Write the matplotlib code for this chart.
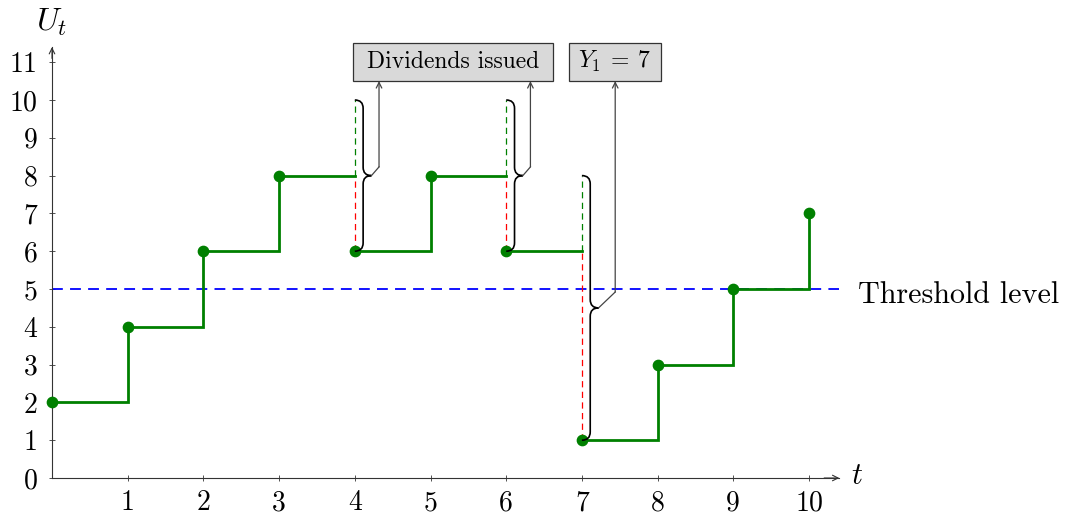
import numpy as np
import matplotlib
matplotlib.use("Agg")
import matplotlib.pyplot as plt
from matplotlib.path import Path
from matplotlib.patches import PathPatch, Rectangle

plt.rcParams["font.family"] = ["cmr10", "DejaVu Serif"]
plt.rcParams["mathtext.fontset"] = "cm"
plt.rcParams["axes.unicode_minus"] = False

# Surplus process: level right after each (premium / claim / dividend) event
times = np.arange(0, 11)
levels = [2, 4, 6, 8, 6, 8, 6, 1, 3, 5, 7]
premium = 2
threshold = 5
x_ticks = list(range(1, 11))
y_ticks = list(range(0, 12))
box_dividend = "Dividends issued"
box_claim = r"$Y_1\:=\:7$"

GREEN = "#008000"

fig = plt.figure(figsize=(10.66, 5.16), dpi=100)
xmax, ymax = 10.4, 11.4
ax = fig.add_axes([52 / 1066, 38 / 516, xmax * 75.7 / 1066, ymax * 37.8 / 516])
ax.set_xlim(0, xmax)
ax.set_ylim(0, ymax)

# axes styling
for s in ("top", "right"):
    ax.spines[s].set_visible(False)
for s in ("left", "bottom"):
    ax.spines[s].set_color("#333333")
    ax.spines[s].set_linewidth(0.8)
ax.set_xticks(x_ticks)
ax.set_yticks(y_ticks)
ax.tick_params(direction="inout", length=5, width=0.6, color="#333333",
               labelsize=20)
ax.tick_params(axis="x", pad=6)
ax.tick_params(axis="y", pad=8)
ax.annotate("", xy=(xmax, 0), xytext=(xmax - 0.2, 0),
            arrowprops=dict(arrowstyle="->", lw=0.8, color="#333333",
                            shrinkA=0, shrinkB=0), annotation_clip=False)
ax.annotate("", xy=(0, ymax), xytext=(0, ymax - 0.3),
            arrowprops=dict(arrowstyle="->", lw=0.8, color="#333333",
                            shrinkA=0, shrinkB=0), annotation_clip=False)
ax.text(xmax + 0.15, 0.05, r"$t$", fontsize=22, va="center", ha="left")
ax.text(0.0, ymax + 0.45, r"$U_t$", fontsize=23, va="baseline", ha="center")

# threshold
ax.plot([0, xmax], [threshold, threshold], color="blue", lw=1.3,
        dashes=(6, 4), zorder=2, clip_on=False)
ax.text(10.65, threshold - 0.17, "Threshold level", fontsize=21.7,
        va="center", ha="left")

# surplus path, split where a downward jump occurs
xs, ys = [times[0]], [levels[0]]
drops = []
for i in range(len(times) - 1):
    t1 = times[i + 1]
    xs.append(t1)
    ys.append(levels[i])
    if levels[i + 1] > levels[i]:
        xs.append(t1)
        ys.append(levels[i + 1])
    else:
        drops.append((t1, levels[i], levels[i + 1]))
        xs += [np.nan, t1]
        ys += [np.nan, levels[i + 1]]
ax.plot(xs, ys, color=GREEN, lw=2, zorder=4, solid_joinstyle="miter")
ax.scatter(times, levels, s=55, color=GREEN, zorder=5, clip_on=False)

# dashed premium (green) and drop (red) segments
for t, pre, post in drops:
    ax.plot([t, t], [pre, pre + premium], color=GREEN, lw=0.9,
            dashes=(5, 3.5), zorder=3)
    ax.plot([t, t], [post, pre], color="red", lw=0.9,
            dashes=(5, 3.5), zorder=3)


def brace(x0, y_lo, y_hi, amp=0.22, r=0.22):
    ym = 0.5 * (y_lo + y_hi)
    xm = x0 + amp / 2
    verts = [(x0, y_hi), (xm, y_hi), (xm, y_hi - r),
             (xm, ym + r), (xm, ym), (x0 + amp, ym),
             (xm, ym), (xm, ym - r),
             (xm, y_lo + r), (xm, y_lo), (x0, y_lo)]
    codes = [Path.MOVETO, Path.CURVE3, Path.CURVE3,
             Path.LINETO, Path.CURVE3, Path.CURVE3,
             Path.CURVE3, Path.CURVE3,
             Path.LINETO, Path.CURVE3, Path.CURVE3]
    ax.add_patch(PathPatch(Path(verts, codes), fill=False, lw=1.2,
                           edgecolor="black", zorder=6))
    return x0 + amp, ym


box_lo, box_hi = 10.5, 11.52
for t, pre, post in drops:
    tx, ty = brace(t, post, pre + premium)
    if post < threshold:
        ax_, ay_ = tx + 0.22, ty + 0.42
    else:
        ax_, ay_ = tx + 0.10, ty + 0.23
    ax.plot([tx, ax_], [ty, ay_], color="#444444", lw=0.9, zorder=6)
    ax.annotate("", xy=(ax_, box_lo), xytext=(ax_, ay_),
                arrowprops=dict(arrowstyle="->", lw=0.9, color="#444444",
                                shrinkA=0, shrinkB=0),
                annotation_clip=False, zorder=6)

# label boxes
for (x0, x1, label) in [(3.98, 6.62, box_dividend), (6.83, 8.04, box_claim)]:
    ax.add_patch(Rectangle((x0, box_lo), x1 - x0, box_hi - box_lo,
                           facecolor="#d9d9d9", edgecolor="#333333", lw=0.9,
                           clip_on=False, zorder=7))
    ax.text(0.5 * (x0 + x1), 0.5 * (box_lo + box_hi), label, fontsize=17,
            ha="center", va="center", zorder=8)

fig.savefig("out.png", dpi=100)
